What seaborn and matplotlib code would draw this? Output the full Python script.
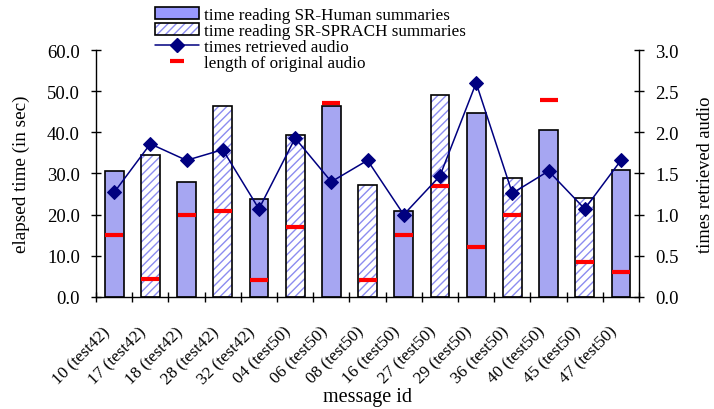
import numpy as np
import pandas as pd
import matplotlib
matplotlib.use("Agg")
import matplotlib.pyplot as plt
import matplotlib.transforms as mtrans
from matplotlib.patches import Patch, Rectangle
from matplotlib.lines import Line2D
import seaborn as sns

# ---------------- data ----------------
messages = ["10 (test42)", "17 (test42)", "18 (test42)", "28 (test42)", "32 (test42)",
            "04 (test50)", "06 (test50)", "08 (test50)", "16 (test50)", "27 (test50)",
            "29 (test50)", "36 (test50)", "40 (test50)", "45 (test50)", "47 (test50)"]
summary_type = ["SR-Human", "SR-SPRACH", "SR-Human", "SR-SPRACH", "SR-Human",
                "SR-SPRACH", "SR-Human", "SR-SPRACH", "SR-Human", "SR-SPRACH",
                "SR-Human", "SR-SPRACH", "SR-Human", "SR-SPRACH", "SR-Human"]
reading_time = [30.5, 34.4, 27.9, 46.4, 23.8, 39.4, 46.4, 27.3, 20.8, 49.1,
                44.7, 28.9, 40.5, 24.0, 30.8]
audio_length = [15.0, 4.4, 20.0, 20.8, 4.2, 17.1, 47.1, 4.2, 15.1, 27.0,
                12.1, 20.0, 47.9, 8.6, 6.0]
times_retrieved = [1.27, 1.86, 1.66, 1.79, 1.07, 1.93, 1.40, 1.66, 1.00, 1.47,
                   2.60, 1.26, 1.53, 1.07, 1.66]
legend_labels = ["time reading SR-Human summaries", "time reading SR-SPRACH summaries",
                 "times retrieved audio", "length of original audio"]

HUMAN = "#9999ff"
HATCH = "#8c8cf0"
NAVY = "#000080"
RED = "#ff0000"

sns.set_style("ticks", rc={"axes.edgecolor": "black", "xtick.color": "black",
                           "ytick.color": "black", "text.color": "black",
                           "axes.labelcolor": "black"})
plt.rcParams["font.family"] = ["Liberation Serif", "DejaVu Serif"]
plt.rcParams["hatch.linewidth"] = 1.0

df = pd.DataFrame({"message": messages, "type": summary_type,
                   "reading": reading_time, "length": audio_length,
                   "retrieved": times_retrieved, "pos": np.arange(len(messages))})

fig = plt.figure(figsize=(7.14, 4.10), dpi=100)
ax = fig.add_axes([0.1345, 0.2732, 0.7605, 0.6024])

sns.barplot(data=df, x="message", y="reading", hue="type", order=messages,
            hue_order=["SR-Human", "SR-SPRACH"], dodge=False, width=0.52,
            palette={"SR-Human": HUMAN, "SR-SPRACH": "white"},
            edgecolor="black", linewidth=1.2, legend=False, ax=ax)

# hatch the SR-SPRACH bars and redraw their black outline
for p in list(ax.patches):
    fc = p.get_facecolor()
    if fc[0] > 0.95 and fc[1] > 0.95 and fc[2] > 0.95:
        p.set_hatch("////")
        p.set_edgecolor(HATCH)
        p.set_linewidth(0)
        outline = Rectangle(p.get_xy(), p.get_width(), p.get_height(),
                            fill=False, edgecolor="black", linewidth=1.2, zorder=p.get_zorder())
        ax.add_patch(outline)

# red dashes: length of original audio
sns.scatterplot(data=df, x="pos", y="length", marker="_", s=150, color=RED,
                linewidth=3, ax=ax, zorder=4, legend=False)

ax.set_ylim(0, 60)
ax.set_yticks(np.arange(0, 61, 10))
ax.set_yticklabels([f"{v:.1f}" for v in np.arange(0, 61, 10)])

ax2 = ax.twinx()
sns.lineplot(data=df, x="pos", y="retrieved", sort=False, color=NAVY, linewidth=1.1,
             marker="D", markersize=7.5, markeredgecolor=NAVY, ax=ax2, legend=False)
ax2.set_ylim(0, 3)
ax2.set_yticks(np.arange(0, 3.01, 0.5))
ax2.set_yticklabels([f"{v:.1f}" for v in np.arange(0, 3.01, 0.5)])

ax.set_xlim(-0.5, len(messages) - 0.5)
ax2.set_xlim(-0.5, len(messages) - 0.5)

# spines
for a in (ax, ax2):
    a.spines["top"].set_visible(False)
ax.spines["right"].set_visible(False)
ax2.spines["left"].set_visible(False)
ax2.spines["bottom"].set_visible(False)
for a in (ax, ax2):
    for s in a.spines.values():
        s.set_linewidth(1.0)
        s.set_color("black")

# x ticks: labels at centers, tick marks at boundaries
ax.set_xticks(np.arange(len(messages)))
ax.set_xticklabels(messages, rotation=45, ha="right", va="center", rotation_mode="anchor")
ax.set_xticks(np.arange(-0.5, len(messages)), minor=True)
ax.tick_params(axis="x", which="major", length=0, pad=23, labelsize=12.3)
ax.tick_params(axis="x", which="minor", direction="inout", length=7, width=1)
offset = mtrans.ScaledTranslation(-6 / 100, 0, fig.dpi_scale_trans)
for lab in ax.get_xticklabels():
    lab.set_transform(lab.get_transform() + offset)

ax.tick_params(axis="y", direction="inout", length=7.2, width=1, pad=8, labelsize=13.5)
ax2.tick_params(axis="y", direction="inout", length=7.2, width=1, pad=8, labelsize=13.5)

ax.set_xlabel("message id", fontsize=14.5)
ax.set_ylabel("elapsed time (in sec)", fontsize=13.8)
ax2.set_ylabel("times retrieved audio", fontsize=13.3)
ax.xaxis.set_label_coords(0.5, -0.365)
ax.yaxis.set_label_coords(-0.122, 0.5)
ax2.yaxis.set_label_coords(1.107, 0.5)

handles = [
    Patch(facecolor=HUMAN, edgecolor="black", linewidth=1.2),
    (Patch(facecolor="white", edgecolor=HATCH, hatch="////", linewidth=0),
     Patch(facecolor="none", edgecolor="black", linewidth=1.2)),
    Line2D([], [], color=NAVY, linewidth=1.1, marker="D", markersize=7.5),
    Line2D([], [], color=RED, linewidth=0, marker="_", markersize=10, markeredgewidth=3),
]
fig.legend(handles, legend_labels, loc="upper left", bbox_to_anchor=(155 / 714, 1 - 8 / 410),
           frameon=False, fontsize=12.3, labelspacing=0.0, handlelength=2.6,
           handletextpad=0.25, borderpad=0, borderaxespad=0)

fig.savefig("out.png", dpi=100)
